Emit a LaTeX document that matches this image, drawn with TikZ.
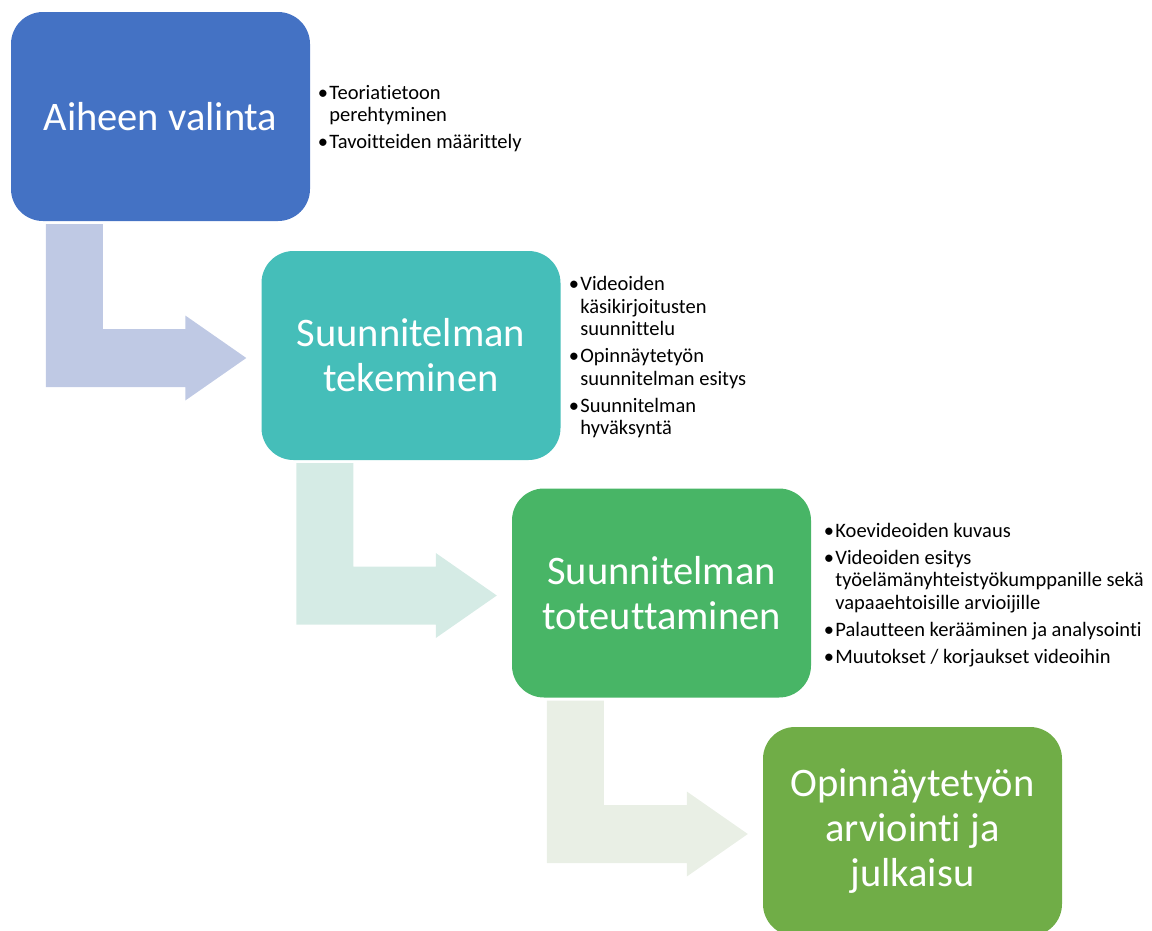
\documentclass[tikz,border=0pt]{standalone}
\usepackage{fontspec}
\setmainfont{Carlito}[Ligatures=NoCommon]
\usepackage{xcolor}
\usepackage{tikz}
\usetikzlibrary{calc}

\definecolor{stepblue}{HTML}{4472C4}
\definecolor{stepteal}{HTML}{45BEB9}
\definecolor{stepgreen}{HTML}{48B566}
\definecolor{steplime}{HTML}{70AD47}
\definecolor{bendblue}{HTML}{BFC9E4}
\definecolor{bendteal}{HTML}{D5EBE5}
\definecolor{bendgreen}{HTML}{E9EFE5}

\newcommand{\bul}{\makebox[9pt][l]{\hspace*{-2.5pt}\textbullet}}
\newcommand{\cont}{\hspace*{9pt}}

\begin{document}
\begin{tikzpicture}[x=1pt, y=-1pt,
  phase/.style={rounded corners=32pt, minimum width=299pt,
               minimum height=209pt, inner sep=0pt, text=white,
               align=center, font=\fontsize{40.5}{45}\selectfont},
  notes/.style={anchor=west, inner sep=0pt, align=left,
               font=\fontsize{20.5}{22.5}\selectfont}]
  \useasboundingbox (0,0) rectangle (1152,930);
  \clip (0,0) rectangle (1152,930);
  \node[phase, fill=stepblue] (valinta) at (160.5,116.5) {Aiheen valinta};
  \node[phase, fill=stepteal] (suunnittelu) at (411,355.5) {Suunnitelman\\tekeminen};
  \node[phase, fill=stepgreen] (toteutus) at (661.5,593) {Suunnitelman\\toteuttaminen};
  \node[phase, fill=steplime] (arviointi) at (912.5,831.5) {Opinnäytetyön\\arviointi ja\\julkaisu};
  % bent arrows between the phases
  \foreach \s/\t/\c in {valinta/suunnittelu/bendblue,
                        suunnittelu/toteutus/bendteal,
                        toteutus/arviointi/bendgreen}
    \fill[\c] let \p1=(\s.south west), \p2=(\t.west) in
      (\x1+35pt,\y1-3pt) -- (\x1+92pt,\y1-3pt) -- (\x1+92pt,\y2+26.5pt)
      -- (\x2-76pt,\y2+26.5pt) -- (\x2-76pt,\y2+40pt) -- (\x2-15pt,\y2-2.5pt)
      -- (\x2-76pt,\y2-45pt) -- (\x2-76pt,\y2-31.5pt) -- (\x1+35pt,\y2-31.5pt)
      -- cycle;
  \node[notes] (valintanotes) at ($(valinta.east)+(10,2)$) {%
    \bul Teoriatietoon\\ \cont perehtyminen\\[4.5pt]
    \bul Tavoitteiden määrittely};
  \node[notes] (suunnittelunotes) at ($(suunnittelu.east)+(10.5,2)$) {%
    \bul Videoiden\\ \cont käsikirjoitusten\\ \cont suunnittelu\\[4.5pt]
    \bul Opinnäytetyön\\ \cont suunnitelman esitys\\[4.5pt]
    \bul Suunnitelman\\ \cont hyväksyntä};
  \node[notes] (toteutusnotes) at ($(toteutus.east)+(15,2)$) {%
    \bul Koevideoiden kuvaus\\[4.5pt]
    \bul Videoiden esitys\\ \cont työelämänyhteistyökumppanille sekä\\
    \cont vapaaehtoisille arvioijille\\[4.5pt]
    \bul Palautteen kerääminen ja analysointi\\[4.5pt]
    \bul Muutokset / korjaukset videoihin};
\end{tikzpicture}
\end{document}
